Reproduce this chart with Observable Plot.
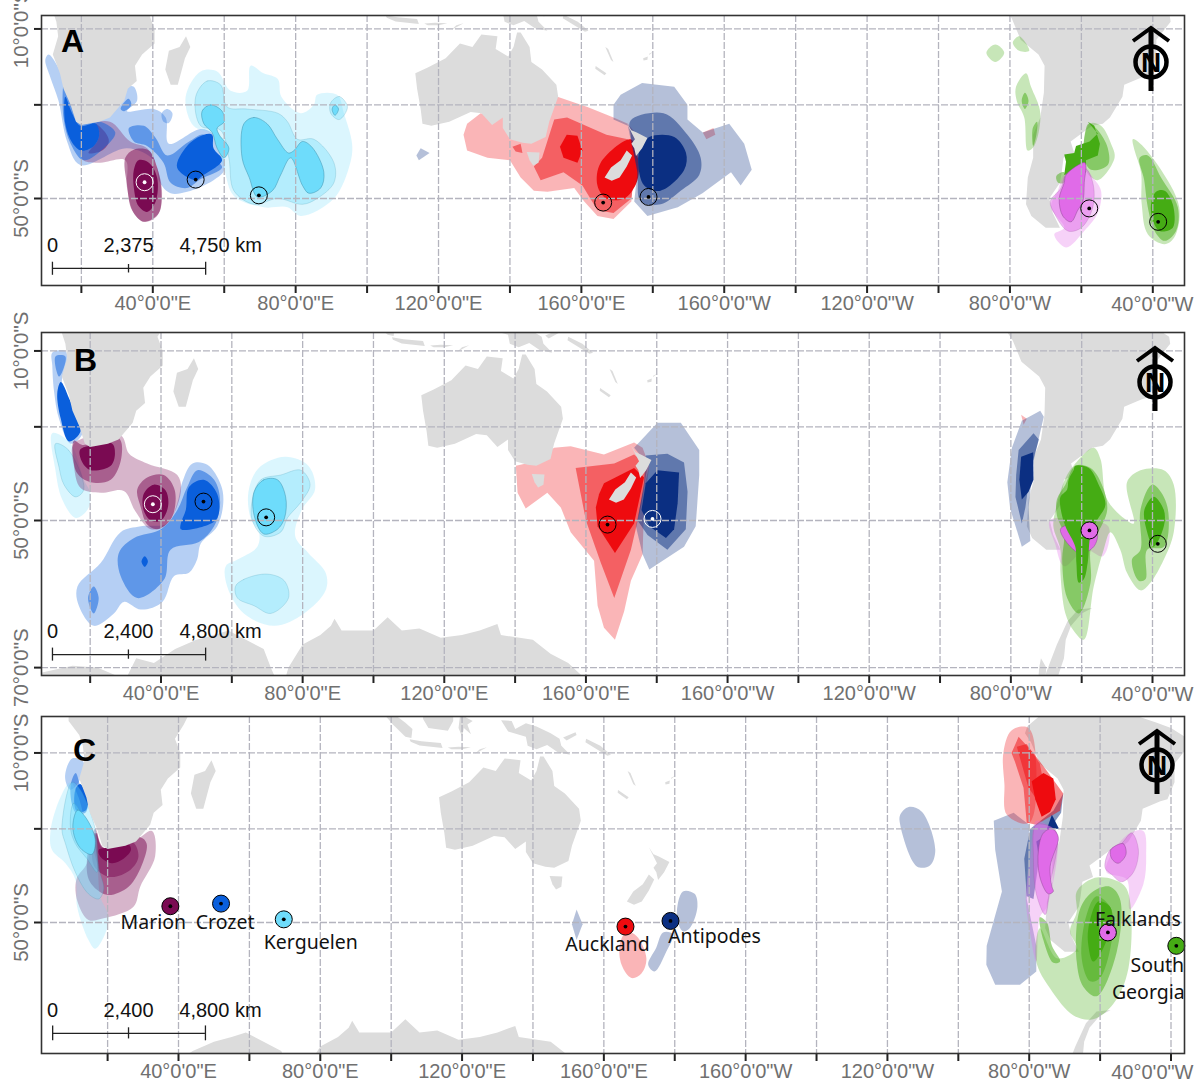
<!DOCTYPE html>
<html><head><meta charset="utf-8">
<style>html,body{margin:0;padding:0;background:#fff}#c{position:relative;width:1199px;height:1082px;overflow:hidden}svg{overflow:visible;position:absolute;left:0;background:transparent}</style>
<script src="https://cdn.jsdelivr.net/npm/d3@7"></script>
<script src="https://cdn.jsdelivr.net/npm/@observablehq/plot@0.6"></script>
</head><body><div id="c"></div>
<script>
// ---- Ticks ----
const lonTicks=[20,40,60,80,100,120,140,160,180,200,220,240,260,280,300,320];
const lonLabels=[40,80,120,160,200,240,280];
const lonLastLabel=[320];
// ---- Colonies [lon,lat] ----
const marion=[37.7,-46.9], crozet=[52,-46.4], kerguelen=[69.7,-49.4], auckland=[166.1,-50.7], antipodes=[178.8,-49.7], falklands=[302.2,-51.7], southGeorgia=[321.5,-54];
// ---- Land, lon (0-360), lat ----
const africa=[[40.5,-10],[40.5,-14],[37,-17],[35,-20],[35.5,-24],[33,-26],[32,-29],[28,-33],[25,-34],[20,-34.8],[18.5,-34],[17,-30],[15,-26],[14,-22],[12,-17],[13.5,-12],[13,-8],[12,-5],[9,-1],[9,5],[45,5],[41.5,-2],[39,-6]];
const madagascar=[[49.3,-12],[47.5,-15],[44.5,-16],[43.5,-21],[45,-25],[47,-25],[49,-18],[50.5,-15]];
const australia=[[113.5,-22],[114,-26],[115,-31],[115.5,-34.5],[118,-35],[123,-34],[129,-31.7],[132,-32],[135,-34.8],[138,-33],[138,-35.5],[140,-38],[143.5,-38.8],[146,-39],[150,-37.5],[151,-34],[153.5,-28],[153,-25],[149,-21],[146,-19],[145.5,-15],[143,-11],[142,-11],[141,-15],[139.5,-17.5],[136,-15.5],[136.5,-12],[132,-11.5],[129.5,-15],[126,-14],[122,-18],[117,-20.5]];
const tasmania=[[144.7,-40.8],[148.3,-40.9],[148,-43],[146.5,-43.6],[145.5,-42.5]];
const nzNorth=[[172.7,-34.4],[174,-36],[175.5,-36.5],[178.5,-37.7],[177,-40],[175.3,-41.6],[174.8,-40],[174,-39],[175,-38]];
const nzSouth=[[172.7,-40.5],[174.2,-41.5],[172.7,-43.8],[170.7,-46],[168.5,-46.6],[166.5,-46],[168.3,-44],[171,-42.5]];
const newGuinea=[[131,-0.8],[134,-1],[135,-3.3],[138,-1.7],[141,-2.6],[145,-4.5],[147.5,-6],[148,-8],[150.5,-10.5],[147,-9.8],[144,-7.8],[141,-9],[138.5,-8],[138,-5.5],[133,-4]];
const borneo=[[109,1],[117.5,1],[117.5,-1],[116,-3.8],[114,-3.5],[110.5,-3],[109,-0.5]];
const sumatra=[[98,3],[104,-1.5],[106,-3.3],[105.7,-5.8],[104,-5.5],[100.5,-2],[97,2]];
const java=[[105.2,-6.2],[108.5,-6.7],[114,-7.2],[114.5,-8.6],[108,-7.9],[105.5,-6.9]];
const sulawesi=[[119.5,1],[125,1.2],[121,0],[123,-1],[121.5,-2],[122.5,-4.8],[120.5,-3],[120,-5.5],[119,-3]];
const timor=[[123.6,-10.3],[127,-8.4],[125,-9]];
const sunda=[[116,-8.5],[119,-8.3],[122.5,-8.4],[120,-9],[117,-9]];
const newBritain=[[148.5,-5.7],[152,-4.2],[152.3,-5],[149.5,-6.5]];
const solomons=[[155,-6],[159,-8],[162,-10.5],[161,-10.8],[158,-9],[154.8,-7]];
const vanuatu=[[166.7,-15],[167.5,-15.5],[169,-19],[168.3,-18.5]];
const newCaledonia=[[164,-20.1],[167,-22],[166.5,-22.5],[163.9,-20.8]];
const fiji=[[177.3,-18],[178.6,-17.5],[178.5,-18.4],[177.4,-18.6]];
const fijiB=[[179,-16.8],[180.2,-16.2],[179,-17.1]];
const antarcticaE=[[5,-70.5],[15,-69.8],[22,-70],[30,-71],[33,-69],[38,-69.5],[44,-68],[50,-67],[55,-66.5],[59,-66],[64,-67],[69,-68],[71,-70],[74,-72],[76,-70],[80,-67.5],[85,-66.5],[88,-65.5],[89,-64.7],[91,-66],[100,-66],[104,-64.5],[108,-66],[113,-65.8],[119,-66.8],[125,-66.5],[130,-66],[135,-65.3],[136,-66.5],[145,-67],[150,-68.5],[155,-69.5],[160,-71],[165,-73],[170,-80],[5,-80]];
const peninsula=[[303,-63.3],[300,-64],[297,-65.5],[295.5,-67],[295,-69],[293,-71],[292,-75],[280,-75],[288,-72],[291,-69.5],[293,-67.5],[296,-65],[299,-63.5]];
const alexander=[[288.5,-69],[290,-70],[289.5,-72],[287.5,-72],[288,-70]];
const southAmerica=[[282.5,0],[279.5,-2.5],[278.8,-4.5],[280.5,-7],[283,-13],[288,-17],[289.7,-20],[289.5,-27],[288.5,-33],[286.5,-37],[286.5,-42],[285,-46],[284.5,-51],[286,-53],[290,-55],[294,-55],[292,-52.5],[291,-50],[294,-47],[294.5,-45],[295,-42],[298,-41],[297,-38.5],[303,-35],[306,-34.5],[308,-33],[311.5,-28],[312,-25],[317,-23],[319,-22.5],[321,-18],[321,-13],[325,-8],[324.7,-6],[320,-3],[316,-1.5],[310,0.5],[310,8],[283,8]];
// ---- Panel A ----
const aCroL1=[[9.9,-18.5],[10.8,-17],[15,-23],[19.7,-34],[32.8,-25.5],[34.7,-25.5],[35.6,-29],[32.8,-31.5],[40.3,-31],[43.6,-33],[44.5,-39],[53.4,-35.7],[57.1,-37],[60,-44.5],[57,-46.5],[49.6,-48.7],[45,-49],[42,-47],[40.3,-42.5],[32.8,-40],[19.7,-43.5],[16,-38.5],[13.6,-29],[11.3,-23]];
const aCroL2=[[42.5,-32],[44,-31],[45.5,-32],[44.5,-34.3],[43,-34]];
const aCroM1=[[15.2,-24.5],[17,-28],[19.7,-34],[25.3,-34],[29.5,-36.5],[26.3,-40],[20.6,-42.5],[17,-39],[15,-33]];
const aCroM2=[[33.3,-35.5],[37.5,-35],[40.8,-37.7],[44,-41.5],[50,-38.6],[54.3,-37],[57,-42],[59.4,-44],[53.4,-46.3],[49.6,-48],[45,-47],[43,-43],[38.4,-39.5],[34.7,-38.5]];
const aCroM3=[[33.2,-28.5],[34,-30],[32,-31.5],[31,-31]];
const aCroD1=[[15.5,-28],[17.4,-32],[19.7,-35],[24,-34.5],[25,-37],[23.5,-39.5],[20,-40.5],[17.4,-38.7],[15.5,-34.5]];
const aCroD2=[[54.3,-37],[56.6,-37],[57,-40],[59.4,-42.5],[53.8,-45.7],[52,-46.5],[46.8,-44],[49.6,-39.5]];
const aMarL=[[28,-34],[33.7,-38.5],[38.4,-40],[41.2,-44],[42.6,-49],[41.2,-53],[37.5,-54],[34.7,-52.5],[32.8,-48],[32.3,-42.5],[25.3,-43],[20.6,-42.5],[19.7,-40],[22.5,-35]];
const aMarM1=[[32.3,-42],[34.7,-40.3],[38.9,-40.5],[41.2,-44],[42.4,-48.5],[41.7,-52.5],[37.5,-54],[34.2,-52],[32.8,-47.5]];
const aMarM2=[[24,-34.5],[26.7,-36.5],[27.7,-38.5],[25.8,-40.5],[22,-41],[24.4,-38.5],[25,-36.5]];
const aMarD=[[36,-42.5],[38.9,-43],[41.2,-46],[40.8,-50.5],[38.4,-52.3],[36,-51.3],[34.7,-48],[34.7,-44.5]];
const aKerL=[[49.2,-28],[53.4,-21.5],[58,-21.5],[61.8,-26.5],[66.4,-26.5],[67.4,-20],[71,-22],[75,-23.5],[76,-28],[81.4,-32],[85.1,-30],[86,-27.5],[91.6,-27.5],[93.5,-32],[95.8,-39],[95.3,-43],[90.7,-50],[81.4,-53],[77.7,-51.5],[71,-51.5],[62.7,-49.5],[60,-44.5],[57,-37],[51.4,-35]];
const aKerM=[[52,-28],[55.2,-24],[59,-25],[60.8,-30.5],[66.4,-31],[75,-32],[77.7,-34],[80.5,-38],[85.1,-38],[90.7,-43],[90.7,-47],[86,-50],[81.9,-51],[75,-50],[68.3,-51],[62.7,-48.5],[61.3,-42],[59,-36],[53.4,-35]];
const aKerM2=[[89.8,-29.5],[92.2,-27.9],[94.5,-30.5],[92.2,-33.5],[89.8,-32]];
const aKerD0=[[90.2,-31],[91,-30],[92,-31],[91,-32.5]];
const aKerD1=[[53.8,-31.5],[56.2,-30],[59.4,-31.5],[60,-34],[58,-35.5],[58.6,-37],[61.3,-40],[60,-42],[58,-40],[56.6,-36.5],[54.3,-34.5]];
const aKerD2=[[65.5,-34.5],[68.3,-33],[72,-34.5],[74.9,-38],[78,-41],[79.5,-40.5],[81.9,-38.5],[84.6,-39.8],[87.9,-45],[87,-48],[83.7,-49],[81.9,-47.5],[78.6,-42],[75.8,-45.5],[73.5,-48.5],[69.3,-49.7],[67,-46],[65,-42]];
const aAucL1=[[127,-37],[128,-34.5],[131.8,-32],[137,-33],[153.3,-28],[161.7,-30.5],[169,-33],[173,-34.5],[176.6,-38],[175,-42.5],[174,-50.5],[169,-53.5],[164.5,-53],[160.8,-50.5],[158,-48],[150.5,-48.7],[146.7,-48.5],[143,-46],[140,-42.5],[133.7,-42],[128,-40.5]];
const aAucL2=[[194,-36.5],[197,-35.5],[197.5,-37],[195,-38]];
const aAucM1=[[152.4,-33.5],[156,-33],[167,-37],[173,-38],[175,-44],[174,-50],[169,-52.5],[164.5,-52],[160.3,-47.5],[155,-45],[148.6,-46.5],[146.7,-43.8],[149,-42]];
const aAucM2=[[140.7,-39.7],[143,-39],[143.5,-41],[141.6,-40.7]];
const aAucD1=[[155.9,-37],[158.9,-37.2],[160.3,-40.5],[158.9,-43],[155,-42],[154,-39.7]];
const aAucD2=[[165.4,-43],[173.8,-38],[175.7,-41.5],[175.7,-46.5],[172,-50],[167,-50],[164.5,-47.5]];
const aAntL1=[[169,-30],[171,-27.5],[177,-24.5],[186,-25.5],[189.7,-30],[189.7,-33.5],[194,-36.5],[201.4,-34.5],[205.6,-39],[207.7,-44.5],[204.6,-47.5],[201.9,-45],[193.9,-49],[187,-51.5],[178.5,-53],[174.8,-50.5],[175.7,-45],[173,-35],[169,-33.5]];
const aAntL2=[[113.8,-41.5],[115,-40],[117.5,-41],[114.5,-42.5]];
const aAntM=[[173.8,-33.7],[183,-32],[189.7,-37],[193.4,-42],[193,-45.5],[187.8,-48.5],[182.2,-51],[176.6,-50.5],[175.7,-45],[173.8,-37]];
const aAntD=[[179,-37.5],[186,-37.5],[189.3,-41],[188.8,-44.5],[182.2,-48.5],[177.6,-47.5],[175.9,-43],[176.6,-39.7]];
const aSgL1=[[273.4,-16.5],[275.9,-14.3],[278.4,-16.5],[275.9,-19]];
const aSgL2=[[280.8,-13.8],[282.6,-12],[285.4,-16],[282.6,-16]];
const aSgL3=[[281.7,-25.5],[284.5,-22],[285.9,-25.5],[288.5,-32],[286.8,-39.5],[285,-40.5],[284,-33],[281.9,-29]];
const aSgM1=[[283.3,-29],[284.2,-27],[285.2,-29],[284.2,-31]];
const aSgM2=[[286.4,-35.5],[287.6,-34],[287.4,-37],[286.5,-39.5]];
const aSgL4=[[302.3,-34.5],[305.5,-35],[308.3,-39],[309.3,-42],[304.6,-46.5],[300.8,-44]];
const aSgM3=[[302,-34.5],[304.6,-36],[307.4,-40],[307.4,-43.5],[302.7,-44.5],[300.8,-42]];
const aSgD1=[[301.8,-34],[303.6,-35],[305.2,-39],[304.6,-41.5],[301.3,-42.5],[301.3,-45],[295.2,-45.5],[295.7,-42.8],[295.2,-41.3],[298,-41],[298.5,-39.5],[302.3,-38.5],[304.6,-36.7]];
const aSgL5=[[293,-45.7],[295.2,-45],[295.2,-47],[293.5,-47]];
const aSgL6=[[314.4,-38],[315.8,-38.5],[321.4,-43.5],[327.4,-51.5],[326,-56.5],[323.3,-57.5],[318.6,-56],[316.9,-51],[316.7,-45],[314.9,-40.5]];
const aSgM4=[[316.3,-42],[318.6,-41.5],[322.3,-46],[327,-51.5],[326.5,-55.5],[323.3,-57],[320.5,-55.5],[318.6,-51.5],[317.6,-46.5]];
const aSgD2=[[320.9,-48.7],[323.3,-48.5],[325.6,-51],[325.6,-55],[321.9,-55.5],[320,-53.7],[319.5,-51]];
const aFalL=[[303.2,-46],[305.5,-48.5],[304.6,-52.5],[300.8,-55.5],[295.7,-58],[292.4,-56],[295.2,-55],[291.5,-51.5],[293.4,-48.5],[295.2,-45.5],[300.8,-44]];
const aFalM=[[303.2,-47],[303.2,-51.5],[300,-55],[296.2,-55.5],[292.4,-52.5],[291.3,-50.5],[294.3,-48],[295.7,-45.5],[300.8,-44]];
const aFalD=[[295.7,-45.5],[301,-43],[300.8,-47],[300.4,-50.5],[299,-52],[297.1,-54],[294.8,-53],[293.8,-50],[295.2,-47]];
// ---- Panel B ----
const bCroL1=[[9.3,-10.5],[13,-10],[13.5,-13],[12,-18.5],[15,-26.5],[17.8,-31.5],[14.5,-34],[11.2,-28],[9.8,-21],[9.3,-14]];
const bCroM1=[[10.2,-11.5],[13,-11.5],[12,-16],[11.2,-17]];
const bCroD1=[[11.7,-18.5],[14,-22.7],[17.3,-31],[14,-33.5],[11.7,-28],[10.7,-21.5]];
const bCroL2=[[48.9,-38.5],[53.1,-38.8],[56.9,-43],[57.6,-46.5],[55.9,-51],[51.2,-54],[50.2,-56.5],[47.9,-58.5],[43.7,-59],[40.4,-62.5],[34.3,-63.5],[29.5,-62.5],[26.7,-64],[21,-65.5],[16.8,-63],[16.4,-60.5],[23,-57],[28.6,-52],[34.3,-51],[41.8,-50.5],[44.6,-46.7],[46,-42.5]];
const bCroM2=[[50.3,-40],[55,-42],[56.7,-46.5],[55,-51],[50.7,-53.7],[42.7,-55],[40.9,-59.5],[33.3,-62],[28.6,-59],[28.1,-55.5],[32.4,-53],[40,-51.5],[44.6,-48],[47.4,-43.5]];
const bCroM3=[[19.4,-62],[21,-60.5],[22.4,-62],[21,-64]];
const bCroD3=[[34.5,-56.8],[35.4,-56],[36.3,-56.8],[35.4,-57.6]];
const bCroD2=[[47.9,-43.5],[52.1,-42],[55.9,-45],[55.9,-49.5],[52.1,-51],[45.6,-51.5],[45.6,-50.5],[47,-48]];
const bMarL=[[28.6,-32],[31,-36.3],[36.1,-38.5],[44.6,-41],[45.6,-44.5],[41.8,-50.5],[37.1,-51.5],[32.8,-48.3],[29.5,-44.3],[23,-44.7],[17.3,-43.7],[15.4,-39],[15.4,-34]];
const bMarM1=[[15.4,-33.3],[17.8,-34.3],[28.1,-32.7],[28.8,-37.2],[25.8,-42],[20.1,-42.5],[16.4,-40.7],[15.2,-37.2]];
const bMarD1=[[17.1,-35.5],[19.7,-34.5],[26.2,-34],[27,-36.3],[25.8,-39],[20.1,-40],[17.8,-38.3]];
const bMarM2=[[33.3,-44],[36.1,-41.5],[40.8,-41],[43.9,-44.2],[43,-49.5],[39,-51.5],[36.1,-50.7],[34.3,-47.5]];
const bMarD2=[[35.2,-44.8],[38,-43],[41.3,-44.2],[42,-47.3],[40,-50],[37.1,-50],[35,-47.8]];
const bKerL1=[[9.3,-31.5],[14.5,-34],[18.2,-42],[20.1,-45],[19.2,-48],[15.9,-49.5],[12.1,-46],[10.2,-40]];
const bKerM1=[[10.2,-34],[13.9,-35.5],[18.2,-44],[15.9,-45.5],[12.6,-43],[11.2,-39.3]];
const bKerL2=[[64.7,-44.5],[67.5,-39.6],[75,-37],[81.6,-39],[83.5,-44],[79.7,-48],[77.9,-52.7],[81.6,-55.5],[86.5,-58.5],[86.5,-61],[80.4,-64],[72,-65.5],[63.4,-64],[58.7,-60.5],[58.3,-57.5],[61.6,-56.5],[67.2,-54.5],[67.7,-52],[65.3,-49.5]];
const bKerM2=[[65.8,-46],[68.2,-42],[73.8,-41],[79.5,-40],[82.1,-43],[79.5,-46.5],[75.7,-49.5],[73.8,-52],[69.1,-52.7],[65.8,-50]];
const bKerM3=[[61,-60.5],[63.4,-59.5],[70,-58.7],[74.8,-59.7],[76,-62],[71,-64],[66.3,-63],[61.6,-62]];
const bKerD=[[66.3,-44.5],[69,-42],[72.9,-42],[75.2,-45.5],[74.9,-49.5],[72.9,-51.5],[69,-52.3],[66.3,-49]];
const bAucL=[[140.2,-39],[146,-38],[151,-35],[155.7,-34.6],[165.1,-36.5],[173.6,-33.7],[176,-35],[177.9,-39],[176.4,-47.5],[176,-55.7],[172.7,-59.7],[170.8,-63.7],[168.2,-67],[165.1,-65.7],[163.3,-63],[162.3,-56.7],[155.7,-52],[152.9,-47.5],[149.1,-44.7],[143,-47.7],[140.7,-44.7]];
const bAucM=[[157.1,-39.5],[168,-38.5],[173.6,-36.5],[177.4,-39],[175.5,-47.5],[172.7,-55],[168,-62],[164.2,-57],[160,-50]];
const bAucD=[[165.1,-42.7],[173.6,-39.5],[176.4,-41.5],[173.6,-50.5],[168.2,-55.5],[163.3,-51],[162.8,-47.5],[163.7,-45]];
const bAntL=[[173.6,-35],[180.2,-29],[186.8,-29],[192,-35.5],[192,-41],[191,-51],[187.7,-54.5],[177.9,-58],[176,-55.7],[174.1,-51],[176.4,-43.5],[177.9,-39]];
const bAntM=[[176.9,-36.7],[183,-36.3],[187.7,-38.3],[188.7,-44.5],[188.2,-51.5],[183,-55],[177.4,-52.5],[174.6,-50],[176.4,-42.7]];
const bAntD=[[180.2,-40],[186.3,-40.5],[185.9,-46.7],[184.9,-51.5],[182.6,-53],[177.9,-51],[175.7,-48],[176.9,-42.7]];
const bAucS=[[282.9,-27],[284.5,-28],[283.6,-29.5]];
const bAntL2=[[283.1,-28.5],[288.3,-26],[289.3,-27.5],[286.4,-38],[285,-47.5],[285.5,-53.5],[283.1,-54.5],[279.8,-47.7],[279,-42.5],[280.3,-35]];
const bAntM2=[[282.2,-35.5],[286.4,-31.5],[287.9,-33],[285.5,-40],[284.1,-47.5],[283.1,-50.5],[281.3,-45.5],[281.5,-41]];
const bAntD2=[[282.9,-37],[286.3,-36],[286.4,-42],[285,-44.5],[283.1,-46],[282.4,-42]];
const bFalL=[[291,-50],[300,-50],[307.5,-51],[306,-56],[301,-55],[295,-57.5],[292.5,-54]];
const bFalD=[[294,-51.5],[299,-50.5],[304.3,-52],[303.4,-54.5],[299.2,-55.5]];
const bSgL1=[[303.4,-35],[305.3,-37.5],[307.2,-46],[312.8,-50],[314.7,-50.5],[312.8,-42.5],[316.6,-40],[323.2,-40],[326,-43],[326,-52],[323.2,-56.5],[319.4,-60],[316.6,-61],[312.8,-58.5],[310.9,-55],[308.1,-52],[306.2,-55],[303.4,-60.5],[300.6,-67],[297.7,-66],[295.4,-64],[294,-58.5],[294,-55],[292,-51],[292.8,-47.5],[295.4,-41.7],[297.7,-39]];
const bSgM1=[[298.2,-39],[302.5,-39.5],[305.7,-43],[307.2,-48],[304.3,-52.5],[302.5,-55],[302.5,-60],[299.2,-64],[295.9,-62],[294.5,-56.5],[295,-52.5],[293,-49],[293,-46],[295.4,-43]];
const bSgM2=[[316.6,-48],[319.9,-43],[323.2,-45.5],[324.6,-49.5],[323.2,-54.5],[318.5,-55],[318,-59.5],[316.1,-59.7],[314.2,-56.5],[316.6,-55]];
const bSgD2=[[317.7,-48],[320.3,-45.5],[323.2,-48],[323.2,-51],[320.3,-54.5],[318.5,-52]];
const bSgD1=[[298.2,-39],[302,-39.5],[304.8,-43],[306.7,-47],[304.3,-50],[302.5,-52.5],[301.7,-57],[300.6,-59.5],[299.2,-60],[298.5,-57],[298.2,-54.5],[295.4,-51],[294,-47.5],[294,-45.5],[295.9,-44],[296.3,-42],[297.7,-40]];
// ---- Panel C ----
const cCroL=[[8,-16.7],[10,-11.5],[13.2,-12.5],[11.8,-18],[9.5,-20]];
const cCroM=[[9.5,-19.3],[11,-15.5],[12.3,-19],[14.4,-23],[13.7,-26],[11,-26]];
const cCroD=[[10.9,-20],[12.3,-18.5],[14.4,-23],[13.7,-25.5],[11.2,-25.5]];
const cMarL=[[32.5,-30.5],[33.4,-36.5],[29.2,-43],[27.3,-47],[18.9,-49.2],[14.6,-49.5],[11.5,-46],[11.2,-41.5],[14.2,-38],[16.5,-30],[18.9,-34.5],[27.3,-33]];
const cMarM1=[[16.5,-31],[18.9,-34.5],[29.2,-32],[31,-33.5],[30,-37.7],[25.9,-43],[19.8,-44.7],[15,-42],[14.2,-37]];
const cMarM2=[[16.9,-31],[18.5,-34.5],[26.9,-33],[28.7,-36.5],[26.4,-39.5],[20.8,-41],[16.5,-39],[15.6,-35.7]];
const cMarD=[[17.5,-35],[19.8,-34.5],[25.9,-33.7],[26.6,-35],[24.5,-37],[21.2,-38],[17.9,-36.5]];
const cKerL=[[9.5,-18],[6.7,-22],[3.9,-30.5],[4.3,-35],[8.1,-38],[10.9,-41.5],[11.4,-47],[14.6,-53],[16.5,-54.5],[18.9,-52.5],[20.3,-49],[17.9,-45],[17,-38],[14.2,-30.5],[11.8,-22]];
const cKerM1=[[10,-18],[7.1,-30],[8.1,-33.5],[10.9,-40],[14.6,-44.5],[17.5,-45.5],[18.9,-43.5],[17.5,-39],[16.5,-30],[12.3,-20]];
const cKerM2=[[9.5,-29.5],[10.4,-23.5],[14.2,-29],[16.5,-34],[17,-40],[14.2,-37],[10.9,-33.5]];
const cKerD=[[10.2,-29],[11.5,-25.3],[13.7,-27],[16.5,-32.5],[15.6,-36],[12.8,-35],[10.9,-32.5]];
const cAntS1=[[151,-50.3],[152.3,-47.5],[154,-50.3],[152.3,-53]];
const cAntS2=[[180.6,-48.7],[182.3,-44],[185.6,-44.5],[186.4,-47],[184.2,-51],[182.3,-51.5]];
const cAntS3=[[176.7,-51.7],[179.5,-52],[177.6,-55],[174.3,-58],[172.5,-57],[174.8,-54.3]];
const cAucS=[[166.3,-51.7],[169.2,-52.3],[172,-56],[170.6,-58.3],[167.8,-59],[165,-57],[164.5,-53.7]];
const cAntL1=[[243.6,-26.5],[246,-24.5],[249.7,-25.7],[253.5,-35],[252,-38.5],[248.3,-38.7],[243.6,-29]];
const cAntL2=[[270,-28],[275.6,-26],[280,-29],[279.3,-45.5],[282,-54],[282,-58],[277.4,-60],[270.4,-60],[267.9,-57],[268,-54],[272.3,-44],[270.4,-35]];
const cAntM=[[278.6,-37],[280.3,-30],[286.8,-25.5],[289.6,-21],[289,-26],[285,-31],[282.6,-38],[281.2,-45.5],[279.3,-45]];
const cAntD=[[286.4,-26.5],[288.4,-30],[285,-30]];
const cAntD2=[[282,-33],[283.8,-32],[283,-38]];
const cAucL=[[272.7,-10],[275,-3.7],[279.8,-3],[282,-14],[280,-28.5],[273.7,-26.5],[273,-18.5]];
const cAucM=[[275,-10],[277,-5.5],[281.2,-10],[285,-15],[289.6,-21],[288.7,-25.5],[282,-29],[279.3,-28.5],[278.4,-19.5],[276,-12.5]];
const cAucM2=[[276.5,-8.3],[279.3,-7.5],[283,-13],[284,-18],[281.7,-22],[279.8,-19.5]];
const cAucD=[[280.7,-17.7],[284,-15.5],[286.8,-17],[287.5,-22.5],[285.9,-25.7],[283.5,-27],[281.7,-22.5]];
const cFalL1=[[282,-28],[285,-29],[287.8,-31],[285,-47],[283,-49],[282,-56.5],[280.3,-52],[279,-45],[280.3,-37]];
const cFalM1=[[282,-29],[287.5,-30.5],[285.8,-43],[284.5,-48.5],[282,-44.5],[281.2,-37]];
const cFalD1=[[284,-31],[286.4,-30],[288.2,-32],[285.9,-38.7],[286.4,-43],[286.8,-44],[285.4,-44.5],[283,-41],[282.6,-35]];
const cFalL2=[[308.4,-31],[312.2,-30.5],[313,-36.5],[312.2,-42.5],[308.4,-47.5],[307.5,-41.5],[301.8,-40],[302.8,-36.5]];
const cFalM2=[[301.4,-39],[302.8,-35],[306,-33.5],[308.9,-31],[310.8,-35],[309.4,-40],[306,-42],[303.3,-40.5]];
const cFalD2=[[303,-35],[306.5,-33.5],[307.3,-36],[305.1,-38],[303.3,-37]];
const cSgL=[[293.4,-44],[298,-41.3],[303.7,-41.5],[307.5,-43.5],[308,-57.5],[303.7,-62.5],[298,-64.5],[292.5,-64],[285.9,-60.5],[282,-56.5],[283,-51],[287.8,-56],[293.4,-54.5],[291.5,-51.5],[293.4,-48]];
const cSgM1=[[294.3,-47.5],[298,-44],[302.8,-43],[305.6,-45.5],[304.7,-55],[299,-61.5],[295.3,-60.3],[293.4,-56.5]];
const cSgM2=[[296.2,-48.5],[299,-45],[302.8,-47],[303.7,-51],[300,-59],[297.2,-59.5],[294.8,-56]];
const cSgD=[[296.7,-51],[299.5,-46],[302.8,-47],[303.3,-50],[300.4,-55],[298,-56.5],[296.7,-54]];
const cSgM3=[[283,-49],[285,-50],[286.4,-54],[288.7,-56.5],[286.8,-56.7],[284,-53]];

// ---- Palettes ----
const MAR="#7a0a52",CRO="#0a5fdc",KER="#6edcfb",AUC="#ee0b0f",ANT="#0b2f82",SG="#45ac14",FAL="#e06be8";
const LAND="#dcdcdc";
const lowLand=[southAmerica,newGuinea,borneo,sumatra,java,sulawesi,timor,sunda,newBritain,solomons,vanuatu,newCaledonia,fiji,fijiB,antarcticaE,peninsula,alexander];
const topLand=[africa,madagascar,australia,tasmania,nzNorth,nzSouth];
const S="catmull-rom-closed",P="linear-closed";
function lyr(pts,col,tier,curve=S){return {pts,col,tier,curve};}
const panels=[
 {letter:"A",top:0,height:318,frame:[15,285],xr:[152.3,1152.3],y50:198,latTicks:[-10,-30,-50],latLabels:[-10,-50],letterAt:[31,26],
  scale:{lons:[11.9,33.2,54.8],lat:-61,t:[-60.2,-61.9],tm:[-60.5,-61.6],labels:["0","2,375","4,750 km"]},compass:[1151,28],
  layers:[
   lyr(aCroL1,CRO,1),lyr(aCroL2,CRO,1),lyr(aMarL,MAR,1),lyr(aMarM1,MAR,2),lyr(aMarM2,MAR,2),lyr(aCroM1,CRO,2),lyr(aCroM2,CRO,2),lyr(aCroM3,CRO,2),lyr(aCroD1,CRO,3),lyr(aCroD2,CRO,3),lyr(aMarD,MAR,3),
   lyr(aKerL,KER,1),lyr(aKerM,KER,2),lyr(aKerM2,KER,2),lyr(aKerD0,KER,3),lyr(aKerD1,KER,3),lyr(aKerD2,KER,3),
   lyr(aAucL1,AUC,1,P),lyr(aAucL2,AUC,1,P),lyr(aAucM1,AUC,2,P),lyr(aAucM2,AUC,2,P),lyr(aAucD1,AUC,3,P),lyr(aAucD2,AUC,3),
   lyr(aAntL1,ANT,1,P),lyr(aAntL2,ANT,1,P),lyr(aAntM,ANT,2),lyr(aAntD,ANT,3),
   lyr(aSgL1,SG,1),lyr(aSgL2,SG,1),lyr(aSgL3,SG,1),lyr(aSgM1,SG,2),lyr(aSgM2,SG,2),lyr(aSgL4,SG,1),lyr(aSgM3,SG,2),lyr(aSgD1,SG,3,P),lyr(aSgL5,SG,2),lyr(aSgL6,SG,1),lyr(aSgM4,SG,2),lyr(aSgD2,SG,3),
   lyr(aFalL,FAL,1),lyr(aFalM,FAL,2),lyr(aFalD,FAL,3)],
  dots:[[marion,"none","#fff"],[crozet,"none","#000"],[kerguelen,"none","#000"],[auckland,"none","#000"],[antipodes,"none","#000"],[falklands,"none","#000"],[southGeorgia,"none","#000"]]},
 {letter:"B",top:318,height:386,frame:[14,357],xr:[160.5,1152],y50:202,latTicks:[-10,-30,-50,-70],latLabels:[-10,-50,-70],letterAt:[44,28],
  scale:{lons:[9.35,30.8,52.6],lat:-68.6,t:[-67.9,-69.3],tm:[-68.1,-69.1],labels:["0","2,400","4,800 km"]},compass:[1155,30],
  layers:[
   lyr(bCroL1,CRO,1),lyr(bCroM1,CRO,2),lyr(bCroD1,CRO,3),lyr(bKerL1,KER,1),lyr(bKerM1,KER,2),
   lyr(bCroL2,CRO,1),lyr(bMarL,MAR,1),lyr(bMarM1,MAR,2),lyr(bMarD1,MAR,3),lyr(bMarM2,MAR,2),lyr(bMarD2,MAR,3),
   lyr(bCroM2,CRO,2),lyr(bCroM3,CRO,2),lyr(bCroD3,CRO,3),lyr(bCroD2,CRO,3),
   lyr(bKerL2,KER,1),lyr(bKerM2,KER,2),lyr(bKerM3,KER,2),lyr(bKerD,KER,3),
   lyr(bAucL,AUC,1,P),lyr(bAucM,AUC,2,P),lyr(bAucD,AUC,3,P),lyr(bAntL,ANT,1,P),lyr(bAntM,ANT,2,P),lyr(bAntD,ANT,3,P),
   lyr(bAucS,AUC,1,P),lyr(bAntL2,ANT,1,P),lyr(bAntM2,ANT,2,P),lyr(bAntD2,ANT,3,P),
   lyr(bFalL,FAL,1),lyr(bSgL1,SG,1),lyr(bSgM1,SG,2),lyr(bSgM2,SG,2),lyr(bSgD2,SG,3),lyr(bFalD,FAL,3),lyr(bSgD1,SG,3)],
  dots:[[marion,"none","#fff"],[crozet,"none","#000"],[kerguelen,"none","#000"],[auckland,"none","#000"],[antipodes,"none","#fff"],[falklands,FAL,"#000"],[southGeorgia,"none","#000"]]},
 {letter:"C",top:704,height:378,frame:[12,349],xr:[178,1170.5],y50:218,latTicks:[-10,-30,-50],latLabels:[-10,-50],letterAt:[43,34],
  scale:{lons:[4.5,25.9,47.6],lat:-66.1,t:[-65.3,-66.9],tm:[-65.5,-66.7],labels:["0","2,400","4,800 km"]},compass:[1157,27],
  layers:[
   lyr(cMarL,MAR,1),lyr(cMarM1,MAR,2),lyr(cMarM2,MAR,2),lyr(cMarD,MAR,3),lyr(cCroL,CRO,1),lyr(cCroM,CRO,2),lyr(cCroD,CRO,3),
   lyr(cKerL,KER,1),lyr(cKerM1,KER,2),lyr(cKerM2,KER,2),lyr(cKerD,KER,3),
   lyr(cAntS1,ANT,1,P),lyr(cAntS2,ANT,1),lyr(cAntS3,ANT,1),lyr(cAucS,AUC,1),
   lyr(cAntL1,ANT,1),lyr(cAntL2,ANT,1,P),lyr(cAucL,AUC,1),lyr(cAntM,ANT,2,P),lyr(cAucM,AUC,2,P),lyr(cAucM2,AUC,2,P),lyr(cAucD,AUC,3,P),lyr(cAntD,ANT,3,P),lyr(cAntD2,ANT,3,P),
   lyr(cFalL1,FAL,1),lyr(cFalM1,FAL,2),lyr(cFalD1,FAL,3),lyr(cFalL2,FAL,1),lyr(cFalM2,FAL,2),lyr(cFalD2,FAL,3),
   lyr(cSgL,SG,1),lyr(cSgM3,SG,2),lyr(cSgM1,SG,2),lyr(cSgM2,SG,2),lyr(cSgD,SG,3)],
  dots:[[marion,MAR,"#000"],[crozet,CRO,"#000"],[kerguelen,KER,"#000"],[auckland,AUC,"#000"],[antipodes,ANT,"#000"],[falklands,FAL,"#000"],[southGeorgia,SG,"#000"]],
  names:[["Marion",marion,-17,17],["Crozet",crozet,4,19],["Kerguelen",kerguelen,27,23],["Auckland",auckland,-18,18],["Antipodes",antipodes,44,16],["Falklands",falklands,30,-13],["South",southGeorgia,-19,20],["Georgia",southGeorgia,-28,47]]}
];
const tierAlpha=(col,t)=>col===KER?{1:0.25,2:0.35,3:1}[t]:{1:0.3,2:0.5,3:1}[t];
const mercator=lat=>Math.log(Math.tan(Math.PI/4-lat*Math.PI/360));
const latKnots=d3.range(10,-85,-5);
const X=d=>d[0],Y=d=>d[1];
const FONT="'Liberation Sans',Arial,sans-serif";
function compass(cx,ay){
  return ()=>{
    const g=d3.create("svg:g").attr("fill","none").attr("stroke","#000");
    g.append("path").attr("d",`M${cx},${ay}V${ay+63}`).attr("stroke-width",5);
    g.append("path").attr("d",`M${cx-18},${ay+13}L${cx},${ay}L${cx+18},${ay+13}`).attr("stroke-width",4);
    g.append("circle").attr("cx",cx).attr("cy",ay+34).attr("r",15.5).attr("stroke-width",4.5);
    g.append("text").attr("x",cx).attr("y",ay+44).attr("text-anchor","middle").attr("font-size",28).attr("font-weight","bold").attr("font-family",FONT).attr("fill","#000").attr("stroke","none").text("N");
    return g.node();
  };
}
const host=document.getElementById("c");
for(const p of panels){
  const [ft,fb]=p.frame;
  const k=203;
  const yr=latKnots.map(l=>p.y50+k*(mercator(l)-mercator(-50)));
  const fmtLon=l=>l<=180?`${l}°0'0"E`:`${360-l}°0'0"W`;
  const m=[];
  for(const l of lowLand) m.push(Plot.line(l,{x:X,y:Y,fill:LAND,stroke:"none",curve:P,clip:true}));
  for(const s of p.layers){
    const thin=(s.col===KER||s.col===FAL)&&s.tier>=2;
    m.push(Plot.line(s.pts,{x:X,y:Y,fill:s.col,fillOpacity:tierAlpha(s.col,s.tier),curve:s.curve,clip:true,
      stroke:thin?(s.col===KER?"#3c8ea8":"#8a4a90"):"none",strokeWidth:0.6,strokeOpacity:s.tier===3?0.8:0.35}));
  }
  for(const l of topLand) m.push(Plot.line(l,{x:X,y:Y,fill:LAND,stroke:"none",curve:P,clip:true}));
  m.push(Plot.gridX(lonTicks,{stroke:"#b4b4be",strokeOpacity:1,strokeWidth:1.3,strokeDasharray:"7 2"}));
  m.push(Plot.gridY(p.latTicks,{stroke:"#b4b4be",strokeOpacity:1,strokeWidth:1.3,strokeDasharray:"7 2"}));
  const ringData=p.dots.map(d=>({c:d[0],fill:d[1],ink:d[2]}));
  m.push(Plot.dot(ringData,{x:d=>d.c[0],y:d=>d.c[1],r:8.5,fill:d=>d.fill,stroke:d=>d.ink,strokeWidth:1}));
  m.push(Plot.dot(ringData,{x:d=>d.c[0],y:d=>d.c[1],r:1.9,fill:d=>d.ink,stroke:"none"}));
  const sb=p.scale;
  m.push(Plot.ruleY([sb.lat],{x1:sb.lons[0],x2:sb.lons[2],stroke:"#222",strokeWidth:1.3}));
  m.push(Plot.ruleX(sb.lons,{y1:(d,i)=>i===1?sb.tm[0]:sb.t[0],y2:(d,i)=>i===1?sb.tm[1]:sb.t[1],stroke:"#222",strokeWidth:1.3}));
  m.push(Plot.text(sb.labels.slice(0,2),{x:(d,i)=>sb.lons[i],y:()=>sb.lat,text:d=>d,dy:-23,fontSize:20,fill:"#111",textAnchor:"middle"}));
  m.push(Plot.text(sb.labels.slice(2),{x:()=>sb.lons[2],y:()=>sb.lat,text:d=>d,dy:-23,dx:15,fontSize:20,fill:"#111",textAnchor:"middle"}));
  m.push(Plot.text([p.letter],{frameAnchor:"top-left",dx:p.letterAt[0],dy:p.letterAt[1],lineAnchor:"middle",text:d=>d,fontSize:32,fontWeight:"bold",fill:"#000",textAnchor:"middle"}));
  m.push(compass(p.compass[0],p.compass[1]));
  if(p.names) for(const [t,c,dx,dy] of p.names)
    m.push(Plot.text([t],{x:()=>c[0],y:()=>c[1],dx,dy,text:d=>d,fontFamily:"'Noto Sans','Open Sans',sans-serif",fontSize:19.5,fill:"#111",textAnchor:"middle"}));
  m.push(Plot.axisX({anchor:"bottom",ticks:lonTicks,tickSize:8,tickFormat:()=>"",stroke:"#222",strokeWidth:2,label:null}));
  m.push(Plot.axisX({anchor:"bottom",ticks:lonLabels,tickSize:0,tickPadding:10,tickFormat:fmtLon,fontSize:20,color:"#707070",label:null}));
  m.push(Plot.text(lonLastLabel,{x:d=>d,frameAnchor:"bottom",lineAnchor:"middle",dx:1193-p.xr[1],dy:19.5,text:fmtLon,fontSize:20,fill:"#707070",textAnchor:"end"}));
  m.push(Plot.axisY({anchor:"left",ticks:p.latTicks,tickSize:7,tickFormat:()=>"",stroke:"#222",strokeWidth:2,label:null}));
  m.push(Plot.text(p.latLabels,{y:d=>d,frameAnchor:"left",dx:-20,rotate:-90,text:d=>`${Math.abs(d)}°0'0"S`,fontSize:20.5,fill:"#707070",textAnchor:"middle"}));
  m.push(Plot.frame({stroke:"#333",strokeWidth:1.6}));
  const svg=Plot.plot({width:1199,height:p.height,marginLeft:41,marginRight:15,marginTop:ft,marginBottom:p.height-fb,
    x:{type:"linear",domain:[40,320],range:p.xr,label:null},
    y:{type:"linear",domain:latKnots,range:yr,label:null},
    style:{fontFamily:FONT,background:"transparent",overflow:"visible"},
    marks:m});
  svg.style.top=p.top+"px";
  host.appendChild(svg);
}
</script></body></html>
